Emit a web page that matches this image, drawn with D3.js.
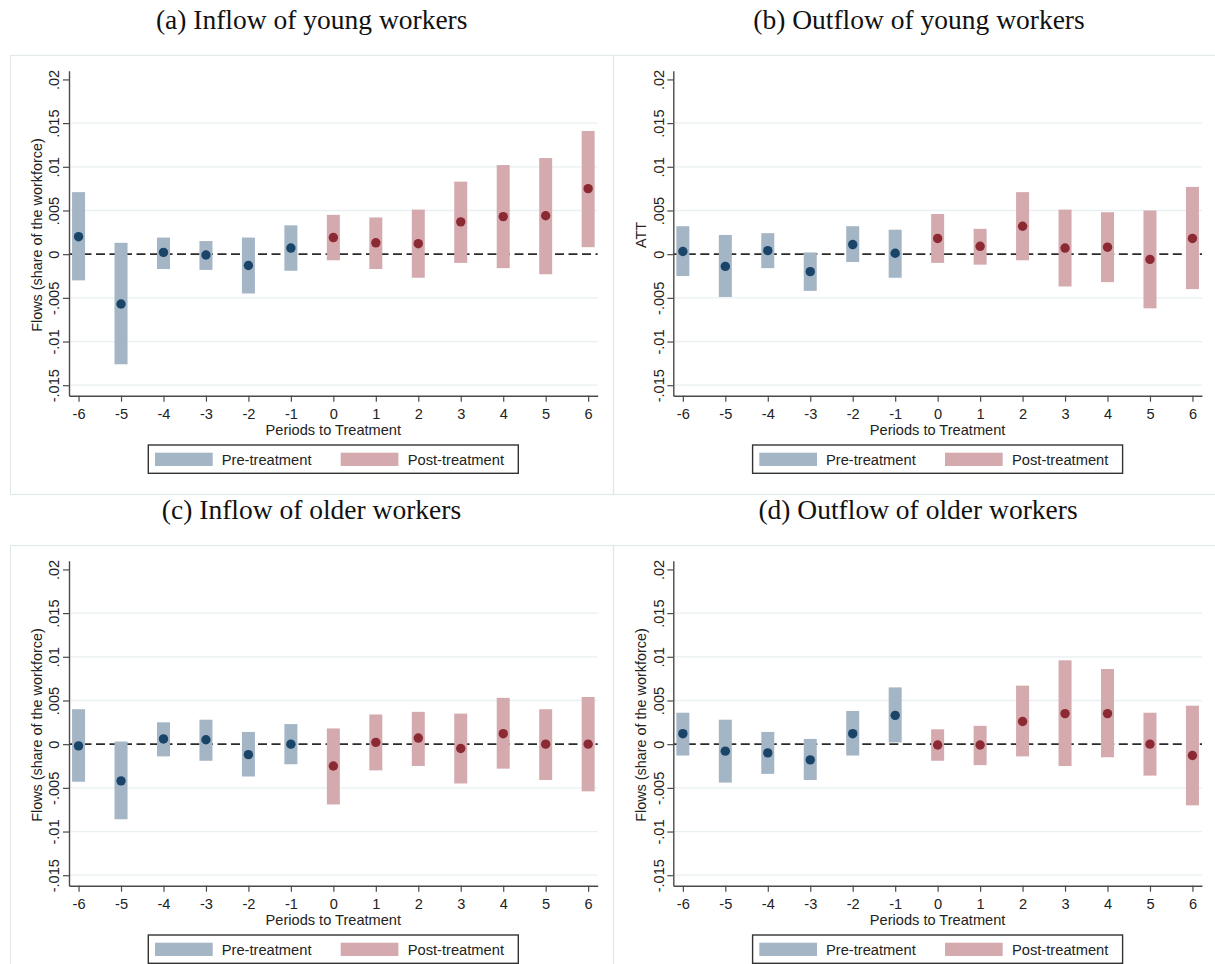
<!DOCTYPE html>
<html>
<head>
<meta charset="utf-8">
<script src="https://cdn.jsdelivr.net/npm/d3@7"></script>
<style>
  html, body { margin: 0; padding: 0; background: #fff; }
  svg text { font-family: "Liberation Sans", Arial, sans-serif; }
</style>
</head>
<body>
<svg id="chart" width="1215" height="964"></svg>
<script>
// Event-study estimates: point estimate and 95% CI bounds by period relative to treatment
const periods = [-6, -5, -4, -3, -2, -1, 0, 1, 2, 3, 4, 5, 6];
const yTicks = [-0.015, -0.01, -0.005, 0, 0.005, 0.01, 0.015, 0.02];
const yTickLabels = ["-.015", "-.01", "-.005", "0", ".005", ".01", ".015", ".02"];
const gridTicks = [-0.015, -0.01, -0.005, 0.005, 0.01, 0.015];
const legendLabels = ["Pre-treatment", "Post-treatment"];
const xTitle = "Periods to Treatment";

// (a) Inflow of young workers
const inflowYoungEst = [0.0020, -0.0057, 0.0002, -0.0001, -0.0013, 0.0007, 0.0019, 0.0013, 0.0012, 0.0037, 0.0043, 0.0044, 0.0075];
const inflowYoungLo  = [-0.0030, -0.0126, -0.0017, -0.0018, -0.0045, -0.0019, -0.0007, -0.0017, -0.0027, -0.0010, -0.0016, -0.0023, 0.0008];
const inflowYoungHi  = [0.0071, 0.0013, 0.0019, 0.0015, 0.0019, 0.0033, 0.0045, 0.0042, 0.0051, 0.0083, 0.0102, 0.0110, 0.0141];

// (b) Outflow of young workers
const outflowYoungEst = [0.0003, -0.0014, 0.0004, -0.0020, 0.0011, 0.0001, 0.0018, 0.0009, 0.0032, 0.0007, 0.0008, -0.0006, 0.0018];
const outflowYoungLo  = [-0.0025, -0.0049, -0.0016, -0.0042, -0.0009, -0.0027, -0.0010, -0.0012, -0.0007, -0.0037, -0.0032, -0.0062, -0.0040];
const outflowYoungHi  = [0.0032, 0.0022, 0.0024, 0.0002, 0.0032, 0.0028, 0.0046, 0.0029, 0.0071, 0.0051, 0.0048, 0.0050, 0.0077];

// (c) Inflow of older workers
const inflowOlderEst = [-0.0002, -0.0042, 0.0006, 0.0005, -0.0012, 0.0000, -0.0025, 0.0002, 0.0007, -0.0005, 0.0012, 0.0000, 0.0000];
const inflowOlderLo  = [-0.0043, -0.0086, -0.0014, -0.0019, -0.0037, -0.0023, -0.0069, -0.0030, -0.0025, -0.0045, -0.0028, -0.0041, -0.0054];
const inflowOlderHi  = [0.0040, 0.0003, 0.0025, 0.0028, 0.0014, 0.0023, 0.0018, 0.0034, 0.0037, 0.0035, 0.0053, 0.0040, 0.0054];

// (d) Outflow of older workers
const outflowOlderEst = [0.0012, -0.0008, -0.0010, -0.0018, 0.0012, 0.0033, -0.0001, -0.0001, 0.0026, 0.0035, 0.0035, 0.0000, -0.0013];
const outflowOlderLo  = [-0.0013, -0.0044, -0.0034, -0.0041, -0.0013, 0.0002, -0.0019, -0.0024, -0.0014, -0.0025, -0.0015, -0.0036, -0.0070];
const outflowOlderHi  = [0.0036, 0.0028, 0.0014, 0.0006, 0.0038, 0.0065, 0.0017, 0.0021, 0.0067, 0.0096, 0.0086, 0.0036, 0.0044];

const colors = {
  preBar: "#a4b5c6", postBar: "#d4aaae",
  preDot: "#1b4469", postDot: "#8c2a34",
  axis: "#4a4a4a", text: "#222", grid: "#e8f0f2", frame: "#e2e9ec"
};

const panels = [
  { title: "(a) Inflow of young workers",  yTitle: "Flows (share of the workforce)", est: inflowYoungEst,  lo: inflowYoungLo,  hi: inflowYoungHi,  dx: 0,     dy: 0,   titleX: 311.7, frame: [10, 55, 603, 439] },
  { title: "(b) Outflow of young workers", yTitle: "ATT",                            est: outflowYoungEst, lo: outflowYoungLo, hi: outflowYoungHi, dx: 604.3, dy: 0,   titleX: 919,   frame: [613, 55, 610, 439] },
  { title: "(c) Inflow of older workers",  yTitle: "Flows (share of the workforce)", est: inflowOlderEst,  lo: inflowOlderLo,  hi: inflowOlderHi,  dx: 0,     dy: 490, titleX: 311.5, frame: [10, 545, 603, 460] },
  { title: "(d) Outflow of older workers", yTitle: "Flows (share of the workforce)", est: outflowOlderEst, lo: outflowOlderLo, hi: outflowOlderHi, dx: 604.3, dy: 490, titleX: 918,   frame: [613, 545, 610, 460] }
];

const svg = d3.select("#chart");

// Shared scales (each panel is translated into place)
const x = d3.scaleLinear().domain([-6.225, 6.225]).range([69, 597.7]);
const y = d3.scaleLinear().domain([-0.0162, 0.021]).range([395.7, 70.7]);
const barW = 13, dotR = 4.7;

panels.forEach(p => {
  // subfigure caption
  svg.append("text")
    .attr("x", p.titleX).attr("y", 29.3 + p.dy)
    .attr("text-anchor", "middle")
    .style("font-family", '"Liberation Serif", "Times New Roman", serif')
    .style("font-size", "27.5px").attr("fill", "#111")
    .text(p.title);

  // graph region outline
  svg.append("rect")
    .attr("x", p.frame[0] + 0.5).attr("y", p.frame[1] + 0.5)
    .attr("width", p.frame[2]).attr("height", p.frame[3])
    .attr("fill", "none").attr("stroke", colors.frame).attr("stroke-width", 1.2);

  const g = svg.append("g").attr("transform", `translate(${p.dx},${p.dy})`);

  // horizontal gridlines
  g.append("g").selectAll("line").data(gridTicks).join("line")
    .attr("x1", x.range()[0]).attr("x2", x.range()[1])
    .attr("y1", d => y(d)).attr("y2", d => y(d))
    .attr("stroke", colors.grid).attr("stroke-width", 1.3);

  // zero reference line
  g.append("line")
    .attr("x1", x.range()[0]).attr("x2", x.range()[1])
    .attr("y1", y(0)).attr("y2", y(0))
    .attr("stroke", "#2b2b2b").attr("stroke-width", 1.6)
    .attr("stroke-dasharray", "9,4.5");

  const rows = periods.map((t, i) => ({ t, est: p.est[i], lo: p.lo[i], hi: p.hi[i], pre: t < 0 }));

  // confidence interval bars
  g.append("g").selectAll("rect").data(rows).join("rect")
    .attr("x", d => x(d.t) - barW / 2).attr("width", barW)
    .attr("y", d => y(d.hi)).attr("height", d => y(d.lo) - y(d.hi))
    .attr("fill", d => d.pre ? colors.preBar : colors.postBar);

  // point estimates
  g.append("g").selectAll("circle").data(rows).join("circle")
    .attr("cx", d => x(d.t)).attr("cy", d => y(d.est)).attr("r", dotR)
    .attr("fill", d => d.pre ? colors.preDot : colors.postDot);

  // y axis
  const ya = g.append("g").attr("transform", `translate(${x.range()[0]},0)`)
    .call(d3.axisLeft(y).tickValues(yTicks).tickFormat((d, i) => yTickLabels[i]).tickSize(6).tickSizeOuter(0));
  ya.select(".domain").attr("stroke", colors.axis).attr("stroke-width", 1.4);
  ya.selectAll(".tick line").attr("stroke", colors.axis).attr("stroke-width", 1.2);
  ya.selectAll(".tick text")
    .attr("x", null).attr("dy", null).attr("y", null)
    .attr("transform", "translate(-9.7,0) rotate(-90)")
    .attr("text-anchor", "middle")
    .attr("fill", colors.text)
    .style("font-size", "14.6px");

  // x axis
  const xa = g.append("g").attr("transform", `translate(0,${y.range()[0]})`)
    .call(d3.axisBottom(x).tickValues(periods).tickFormat(d => String(d)).tickSize(6).tickSizeOuter(0));
  xa.select(".domain").attr("stroke", colors.axis).attr("stroke-width", 1.4);
  xa.selectAll(".tick line").attr("stroke", colors.axis).attr("stroke-width", 1.2);
  xa.selectAll(".tick text")
    .attr("y", 23.6).attr("dy", null)
    .attr("fill", colors.text)
    .style("font-size", "14.6px");

  // axis titles
  g.append("text")
    .attr("transform", `translate(${x.range()[0] - 27},235) rotate(-90)`)
    .attr("text-anchor", "middle").attr("fill", colors.text)
    .style("font-size", "14.4px")
    .text(p.yTitle);

  g.append("text")
    .attr("x", 333.3).attr("y", 435)
    .attr("text-anchor", "middle").attr("fill", colors.text)
    .style("font-size", "14.6px")
    .text(xTitle);

  // legend
  const lg = g.append("g");
  lg.append("rect")
    .attr("x", 148.3).attr("y", 445).attr("width", 370).attr("height", 28.3)
    .attr("fill", "#fff").attr("stroke", "#333").attr("stroke-width", 1.4);
  const items = [
    { label: legendLabels[0], color: colors.preBar, sx: 155, tx: 221.7 },
    { label: legendLabels[1], color: colors.postBar, sx: 340.7, tx: 407.7 }
  ];
  items.forEach(it => {
    lg.append("rect").attr("x", it.sx).attr("y", 452.7).attr("width", 57.7).attr("height", 13.3).attr("fill", it.color);
    lg.append("text").attr("x", it.tx).attr("y", 465).attr("fill", colors.text)
      .style("font-size", "14.7px").text(it.label);
  });
});
</script>
</body>
</html>
